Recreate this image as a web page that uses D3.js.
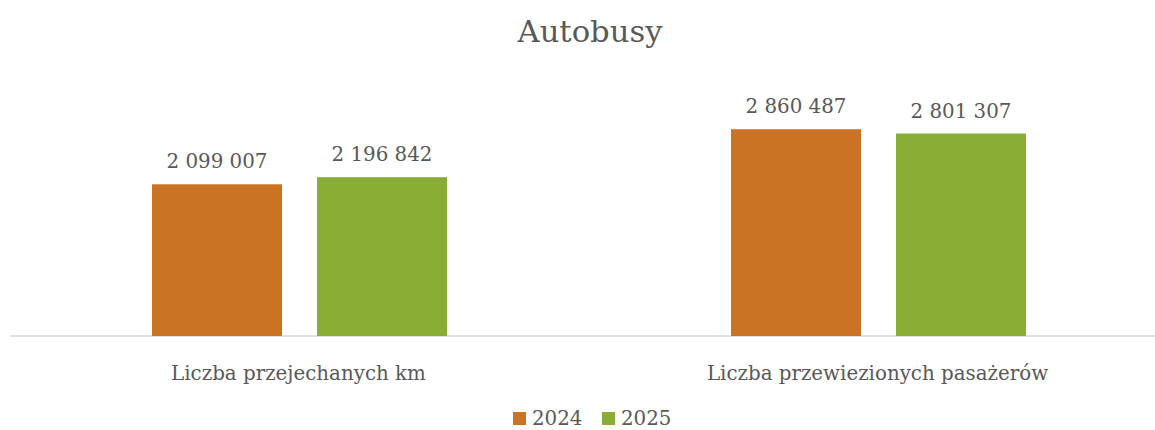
<!DOCTYPE html>
<html>
<head>
<meta charset="utf-8">
<script src="https://cdn.jsdelivr.net/npm/d3@7"></script>
<style>
  html, body { margin: 0; padding: 0; background: #fff; }
  svg { display: block; }
  text { font-family: "DejaVu Serif", "Liberation Serif", serif; fill: #595959; }
</style>
</head>
<body>
<svg id="chart" width="1155" height="430"></svg>
<script>
const title = "Autobusy";
const categories = ["Liczba przejechanych km", "Liczba przewiezionych pasażerów"];
const seriesNames = ["2024", "2025"];
const values2024 = [2099007, 2860487];
const values2025 = [2196842, 2801307];
const yMax = 3500000;
const colors = ["#CB7325", "#89AD37"];

const fmt = v => d3.format(",")(v).replace(/,/g, " ");

const W = 1155, H = 430;
const svg = d3.select("#chart");

const x0 = d3.scaleBand().domain(categories).range([10, 1168]).padding(0);
const x1 = d3.scaleBand().domain(seriesNames).range([0, 295]).paddingInner(35 / 165).paddingOuter(0);
const y = d3.scaleLinear().domain([0, yMax]).range([336, 83]);

const data = categories.map((c, i) => ({
  cat: c,
  vals: [{ s: seriesNames[0], v: values2024[i] }, { s: seriesNames[1], v: values2025[i] }]
}));

// baseline axis
svg.append("line")
  .attr("x1", 10).attr("x2", W)
  .attr("y1", y(0)).attr("y2", y(0))
  .attr("stroke", "#d9d9d9").attr("stroke-width", 1.3);

const groups = svg.selectAll("g.grp").data(data).join("g")
  .attr("class", "grp")
  .attr("transform", d => `translate(${x0(d.cat) + x0.bandwidth() / 2 - 147.5},0)`);

groups.selectAll("rect").data(d => d.vals).join("rect")
  .attr("x", d => x1(d.s))
  .attr("width", x1.bandwidth())
  .attr("y", d => y(d.v))
  .attr("height", d => y(0) - y(d.v))
  .attr("fill", (d, i) => colors[i]);

groups.selectAll("text.val").data(d => d.vals).join("text")
  .attr("class", "val")
  .attr("x", d => x1(d.s) + x1.bandwidth() / 2)
  .attr("y", d => y(d.v) - 16)
  .attr("text-anchor", "middle")
  .text(d => fmt(d.v));

const catLabels = svg.selectAll("text.cat").data(categories).join("text")
  .attr("class", "cat")
  .attr("x", d => x0(d) + x0.bandwidth() / 2 - 1)
  .attr("y", 380)
  .attr("text-anchor", "middle")
  .text(d => d);

const titleText = svg.append("text")
  .attr("x", 590).attr("y", 42)
  .attr("text-anchor", "middle")
  .text(title);

const legend = svg.append("g");
const legX = [513, 602];
seriesNames.forEach((s, i) => {
  legend.append("rect").attr("x", legX[i]).attr("y", 412).attr("width", 13).attr("height", 13).attr("fill", colors[i]);
  legend.append("text").attr("class", "leg").attr("x", legX[i] + 19).attr("y", 425).text(s);
});

// fit font sizes to reference text widths
function fitSize(sel, targetWidth) {
  sel.style("font-size", "100px");
  const w = sel.node().getComputedTextLength();
  return 100 * targetWidth / w;
}
const bodySize = fitSize(catLabels.filter((d, i) => i === 0), 255);
svg.selectAll("text.cat, text.val, text.leg").style("font-size", bodySize + "px");
const titleSize = fitSize(titleText, 145);
titleText.style("font-size", titleSize + "px");
</script>
</body>
</html>
